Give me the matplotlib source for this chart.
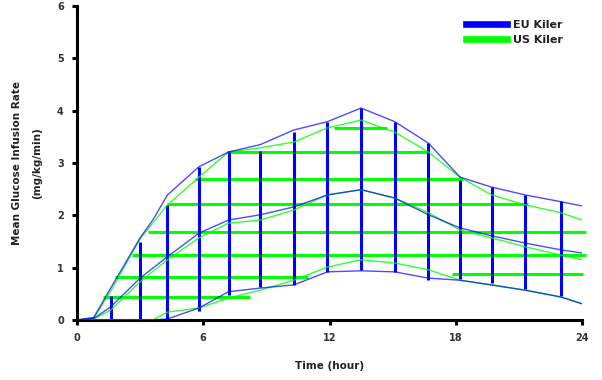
import matplotlib
matplotlib.use('Agg')
import matplotlib.pyplot as plt
from matplotlib.lines import Line2D

# curves (hours, mg/kg/min)
curve_t = [0, 0.8, 1.6, 3.0, 3.6, 4.3, 5.8, 7.2, 8.7, 10.3, 11.9, 13.5, 15.1, 16.7, 18.2, 19.7, 21.3, 23.0, 24]
eu_upper = [0, 0.05, 0.61, 1.57, 1.91, 2.39, 2.93, 3.21, 3.35, 3.63, 3.79, 4.05, 3.79, 3.38, 2.73, 2.54, 2.39, 2.26, 2.18]
eu_mean = [0, 0.03, 0.25, 0.80, 0.99, 1.21, 1.66, 1.91, 2.01, 2.16, 2.39, 2.49, 2.33, 2.01, 1.76, 1.61, 1.47, 1.34, 1.28]
eu_lower = [0, 0, 0, 0, 0, 0.02, 0.23, 0.54, 0.61, 0.67, 0.92, 0.94, 0.92, 0.80, 0.76, 0.67, 0.57, 0.44, 0.31]
us_upper = [0, 0.04, 0.55, 1.55, 1.85, 2.20, 2.73, 3.21, 3.29, 3.40, 3.67, 3.82, 3.59, 3.21, 2.73, 2.39, 2.20, 2.05, 1.91]
us_mean = [0, 0.02, 0.19, 0.73, 0.93, 1.15, 1.57, 1.85, 1.91, 2.10, 2.39, 2.49, 2.33, 2.05, 1.72, 1.57, 1.40, 1.24, 1.15]
us_lower = [0, 0, 0, 0, 0, 0.15, 0.23, 0.42, 0.57, 0.76, 1.01, 1.15, 1.09, 0.96, 0.76, 0.67, 0.57, 0.44, 0.31]

# EU Kiler bars (vertical)
bar_t = [1.6, 3.0, 4.3, 5.8, 7.2, 8.7, 10.3, 11.9, 13.5, 15.1, 16.7, 18.2, 19.7, 21.3, 23.0]
bar_lo = [0, 0, 0, 0.18, 0.48, 0.64, 0.67, 0.92, 0.96, 0.92, 0.76, 0.78, 0.70, 0.59, 0.45]
bar_hi = [0.45, 1.50, 2.20, 2.93, 3.22, 3.22, 3.60, 3.79, 4.05, 3.79, 3.38, 2.68, 2.54, 2.39, 2.28]

# US Kiler bars (horizontal)
hbar_y = [3.67, 3.21, 2.70, 2.22, 1.68, 1.24, 0.82, 0.88, 0.44]
hbar_x0 = [12.2, 7.13, 5.61, 4.28, 3.37, 2.61, 1.81, 17.82, 1.24]
hbar_x1 = [14.73, 16.68, 18.35, 21.44, 24.19, 24.19, 10.98, 24.05, 8.22]

blue = '#0000ff'
green = '#00ff00'

fig = plt.figure(figsize=(6.02, 3.80), dpi=100)
ax = fig.add_axes([77/602, 60/380, 505/602, 314/380])

ax.hlines(hbar_y, hbar_x0, hbar_x1, colors=green, linewidth=2.2, clip_on=False, zorder=2)
ax.vlines(bar_t, bar_lo, bar_hi, colors=blue, linewidth=2.2, zorder=3)

for vals in (us_upper, us_mean, us_lower):
    ax.plot(curve_t, vals, color=green, lw=1.0, alpha=0.8, zorder=4)
for vals in (eu_upper, eu_mean, eu_lower):
    ax.plot(curve_t, vals, color=blue, lw=1.0, alpha=0.7, zorder=4)

ax.set_xlim(0, 24)
ax.set_ylim(0, 6)
ax.set_xticks([0, 6, 12, 18, 24])
ax.set_yticks([0, 1, 2, 3, 4, 5, 6])
ax.spines['top'].set_visible(False)
ax.spines['right'].set_visible(False)
ax.spines['left'].set_linewidth(2.2)
ax.spines['bottom'].set_linewidth(2.2)
ax.tick_params(direction='out', length=3.5, width=2.2, labelsize=7, pad=6)
for lab in ax.get_xticklabels() + ax.get_yticklabels():
    lab.set_fontweight('bold')
    lab.set_color('#333333')

fig.text(330/602, 1 - 366/380, 'Time (hour)', ha='center', va='center',
         fontsize=7.5, fontweight='bold', color='#222222')
fig.text(17/602, 1 - 163/380, 'Mean Glucose Infusion Rate', ha='center', va='center',
         rotation=90, fontsize=7.5, fontweight='bold', color='#222222')
fig.text(37/602, 1 - 163/380, '(mg/kg/min)', ha='center', va='center',
         rotation=90, fontsize=7.5, fontweight='bold', color='#222222')

handles = [Line2D([], [], color=blue, lw=4.8), Line2D([], [], color=green, lw=4.8)]
leg = fig.legend(handles, ['EU Kiler', 'US Kiler'], loc='upper left',
                 bbox_to_anchor=(460/602, 1 - 14/380), frameon=False,
                 prop={'size': 8, 'weight': 'bold'}, handlelength=3.7,
                 handletextpad=0.6, labelspacing=0.45, borderpad=0)
for t in leg.get_texts():
    t.set_color('#222222')

fig.savefig('out.png', dpi=100)
